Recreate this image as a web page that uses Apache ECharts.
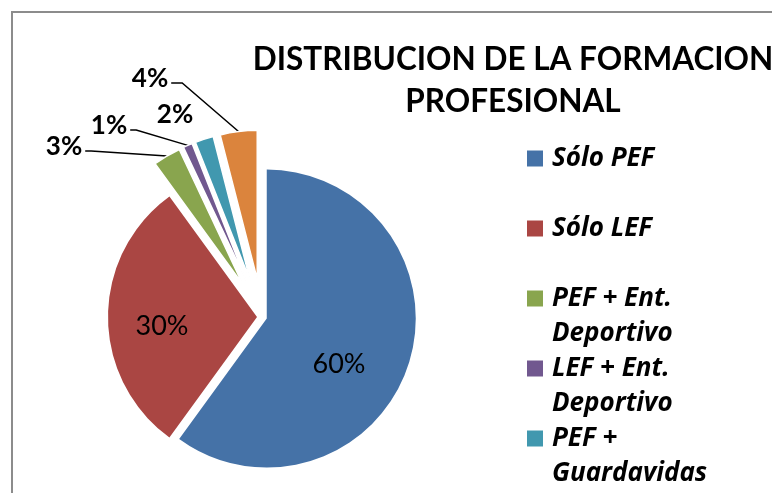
<!DOCTYPE html>
<html>
<head>
<meta charset="utf-8">
<script src="https://cdn.jsdelivr.net/npm/echarts@6/dist/echarts.min.js"></script>
<style>
  html, body { margin: 0; padding: 0; background: #fff; }
  #chart { width: 772px; height: 493px; }
</style>
</head>
<body>
<div id="chart"></div>
<script>
  // datos del grafico
  const categories = ['Sólo PEF', 'Sólo LEF', 'PEF + Ent.\nDeportivo', 'LEF + Ent.\nDeportivo', 'PEF +\nGuardavidas', 'LEF +\nGuardavidas']
  const values = [60, 30, 3, 1, 2, 4]
  const colors = ['#4572A7', '#AA4643', '#89A54E', '#71588F', '#4198AF', '#DB843D']
  const titleLines = ['DISTRIBUCION DE LA FORMACION', 'PROFESIONAL']

  const font = 'Lato, "Open Sans", sans-serif'
  const legendFont = '"Open Sans", Lato, sans-serif'
  const pieCenter = [262, 317]
  const pieRadius = 149
  // separacion de cada porcion (las chicas mas afuera)
  const explode = [5, 5, 38, 38, 38, 38]
  // donde van las etiquetas (centro del texto)
  const labelSpots = [[339, 364], [162, 326], [64, 147], [109, 126], [175, 115], [150, 79]]
  const hidden = 'rgba(0,0,0,0)'

  function layoutLabel (p) {
    const spot = labelSpots[p.dataIndex]
    const res = { x: spot[0], y: spot[1], align: 'center', verticalAlign: 'middle' }
    if (p.labelLinePoints && p.dataIndex > 1) {
      const sx = spot[0] + p.labelRect.width / 2 + 3
      const sy = spot[1] + 4
      res.labelLinePoints = [p.labelLinePoints[0], [sx + (p.dataIndex === 5 ? 11 : 6), sy], [sx, sy]]
    }
    return res
  }

  // una serie por porcion para poder separar cada una por su cuenta
  const total = values.reduce(function (a, b) { return a + b }, 0)
  let acc = 0
  const series = values.map(function (v, i) {
    const mid = (acc + v / 2) / total * Math.PI * 2
    acc += v
    const small = i > 1
    return {
      type: 'pie',
      center: [pieCenter[0] + explode[i] * Math.sin(mid), pieCenter[1] - explode[i] * Math.cos(mid)],
      radius: pieRadius,
      startAngle: 90, clockwise: true,
      avoidLabelOverlap: false,
      emphasis: { disabled: true },
      labelLayout: layoutLabel,
      data: values.map(function (w, j) {
        if (j !== i) {
          return { name: categories[j], value: w, itemStyle: { color: hidden, borderWidth: 0 }, label: { show: false }, labelLine: { show: false } }
        }
        return {
          name: categories[j], value: w,
          itemStyle: { color: colors[j], borderColor: '#fff', borderWidth: small ? 1.5 : 0 },
          label: {
            show: true, position: small ? 'outside' : 'inside', formatter: '{c}%',
            fontFamily: font, fontSize: small ? 26 : 27, fontWeight: small ? 'bold' : 'normal', color: '#000'
          },
          labelLine: { show: small && j !== 4, length: 10, length2: 10, lineStyle: { color: '#000', width: 1.5 } }
        }
      })
    }
  })

  const chart = echarts.init(document.getElementById('chart'), null, { renderer: 'canvas' })
  chart.setOption({
    animation: false,
    textStyle: { fontFamily: font },
    graphic: [{
      type: 'rect', silent: true,
      shape: { x: 12, y: 12, width: 800, height: 520 },
      style: { fill: null, stroke: '#8c8c8c', lineWidth: 2 }
    }],
    title: {
      text: titleLines.join('\n'),
      left: 513, top: 39, padding: 0,
      textAlign: 'center',
      textStyle: { fontFamily: font, fontSize: 31.5, fontWeight: 'bold', color: '#000', lineHeight: 42 }
    },
    legend: {
      orient: 'vertical',
      left: 527, top: 106, padding: 0,
      height: 700,
      itemGap: -35,
      itemWidth: 16, itemHeight: 16,
      icon: 'rect',
      data: categories.map(function (c, i) { return { name: c, itemStyle: { color: colors[i] } } }),
      formatter: function (name) {
        return '\n' + name + (name.indexOf('\n') >= 0 ? '' : '\n')
      },
      textStyle: { fontFamily: legendFont, fontSize: 26, fontWeight: 'bold', fontStyle: 'italic', color: '#000', lineHeight: 35, padding: [0, 0, 0, 4] }
    },
    series: series
  })
</script>
</body>
</html>
